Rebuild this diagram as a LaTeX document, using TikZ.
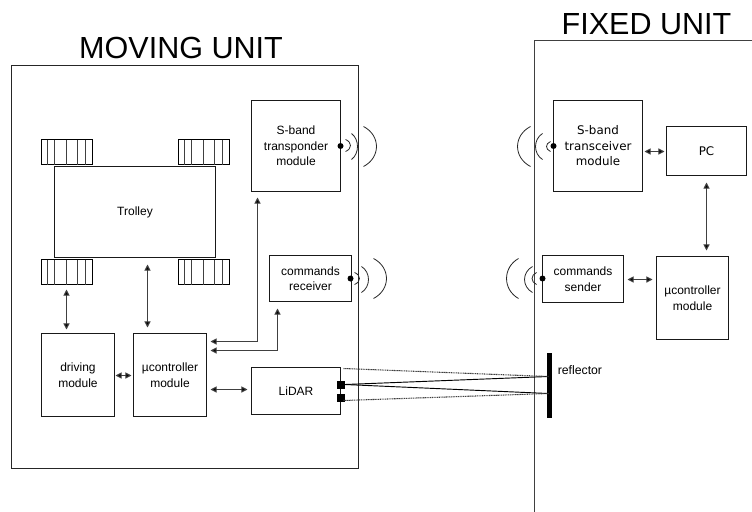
\documentclass[tikz,border=0pt]{standalone}
\usepackage{fontspec}
\setmainfont{Liberation Sans}
\newfontfamily\dejavu{DejaVu Sans}
\usetikzlibrary{arrows.meta}
\tikzset{
 box/.style={draw=black!90,line width=0.65pt,inner sep=0pt,align=center,font=\fontsize{9pt}{11.6pt}\selectfont},
 dvbox/.style={box,font=\dejavu\fontsize{8.9pt}{11.6pt}\selectfont},
 frame/.style={draw=black!75,line width=0.65pt},
 link/.style={draw=black!75,line width=0.8pt,{Triangle[length=4.6pt,width=4.6pt,fill=black]}-{Triangle[length=4.6pt,width=4.6pt,fill=black]}},
 wave/.style={draw=black!85,line width=0.6pt},
 head/.style={font=\fontsize{22.9pt}{26pt}\selectfont,inner sep=0pt},
 wheel/.style={draw=black,line width=0.65pt},
 spoke/.style={draw=black!75,line width=0.65pt},
 beam/.style={draw=black,line width=0.7pt},
 beamd/.style={draw=black!75,line width=0.8pt,dash pattern=on 0.8pt off 0.5pt},
 dotn/.style={circle,fill=black,inner sep=0pt,minimum size=4.5pt},
 sensor/.style={fill=black,draw=none,inner sep=0pt}
}
\newcommand{\wheelat}[2]{%
 \draw[wheel] (#1,#2) rectangle ++(51,25);
 \foreach \d in {6,13,25,36,44}{\draw[spoke] ({#1+\d},#2) -- ++(0,25);}
}
\newcommand{\arcsR}[4]{\draw[wave] (#1,{#2-#3}) .. controls ({#1+1.33*#4},{#2-#3*0.55}) and ({#1+1.33*#4},{#2+#3*0.55}) .. (#1,{#2+#3});}
\newcommand{\bxx}[7][box]{\node[#1,minimum width={(#5-#3)*0.75pt},minimum height={(#6-#4)*0.75pt}] (#2) at ({(#3+#5)/2},{(#4+#6)/2}) {#7};}
\begin{document}
\begin{tikzpicture}[x=0.75pt,y=-0.75pt]
\useasboundingbox (0,0) rectangle (752,511);
\begin{scope}[shift={(0.5,0.5)}]
% frames
\node[draw=black!85,line width=0.65pt,minimum width=347*0.75pt,minimum height=403*0.75pt,inner sep=0pt] (moving) at (184.5,266.5) {};
\coordinate (fa) at (534,511);
\coordinate (fb) at (534,40);
\coordinate (fc) at (752,40);
\draw[frame] (fa) -- (fb) -- (fc);
\node[head] (mt) at (180.5,47) {MOVING UNIT};
\node[head] (ft) at (646,23.5) {FIXED UNIT};
% wheels
\wheelat{41}{139}
\wheelat{178}{139}
\wheelat{41}{259}
\wheelat{178}{259}
% boxes
\bxx{trolley}{54}{166}{215}{257}{Trolley}
\bxx{sband}{251}{100}{340}{191}{S-band\\transponder\\module}
\bxx{recv}{269}{255}{351}{301}{commands\\receiver}
\bxx{drive}{41}{333}{114}{416}{driving\\module}
\bxx{muc}{133}{333}{206}{416}{µcontroller\\module}
\bxx{lidar}{251}{367}{340}{414}{LiDAR}
\bxx[dvbox]{trans}{553}{100}{642}{191}{S-band\\transceiver\\module}
\bxx[dvbox]{pc}{666}{126}{746}{175}{PC}
\bxx{send}{542}{255}{623}{302}{commands\\sender}
\bxx{fuc}{656}{256}{728}{339}{µcontroller\\module}
% connectors
\coordinate (wa) at (66,289); \coordinate (wb) at (66,329);
\draw[link] (wa) -- (wb);
\coordinate (ta) at (147,264); \coordinate (tb) at (147,327);
\draw[link] (ta) -- (tb);
\coordinate (dr) at (115,375); \coordinate (mu) at (131,375);
\draw[link] (dr) -- (mu);
\coordinate (m1) at (210,341); \coordinate (s1) at (257,197);
\draw[link] (m1) -| (s1);
\coordinate (m2) at (210,350); \coordinate (r2) at (277,308);
\draw[link] (m2) -| (r2);
\coordinate (m3) at (210,389); \coordinate (l3) at (247,389);
\draw[link] (m3) -- (l3);
\coordinate (t1) at (644,151); \coordinate (p1) at (664,151);
\draw[link] (t1) -- (p1);
\coordinate (p2) at (706,182); \coordinate (f2) at (706,250);
\draw[link] (p2) -- (f2);
\coordinate (c1) at (627,279); \coordinate (f1) at (652,279);
\draw[link] (c1) -- (f1);
% antennas
\node[dotn] (d1) at (340,145.5) {};
\node[dotn] (d2) at (350,278) {};
\node[dotn] (d3) at (553,145.5) {};
\node[dotn] (d4) at (542,278) {};
\arcsR{345}{145}{6}{5}
\arcsR{351}{146}{13}{6}
\arcsR{363}{146}{20}{13}
\arcsR{354}{278}{6}{5}
\arcsR{361}{279}{13}{7}
\arcsR{373}{278}{20}{13}
\arcsR{550}{146}{5}{-4}
\arcsR{542}{146}{13}{-7}
\arcsR{530}{146}{20}{-13}
\arcsR{536}{278}{6}{-4.5}
\arcsR{532}{279}{13}{-8}
\arcsR{518}{278}{20}{-12}
% reflector and sensors
\node[sensor,minimum width=6pt,minimum height=6pt] (s1n) at (340,384) {};
\node[sensor,minimum width=6pt,minimum height=6pt] (s2n) at (340,397) {};
\node[fill=black,inner sep=0pt,minimum width=3.75pt,minimum height=48.75pt] (refl) at (549,384.5) {};
\node[font=\fontsize{9.2pt}{10pt}\selectfont,anchor=west,inner sep=0pt] (rt) at (557,370) {reflector};
\coordinate (r1) at (548,376); \coordinate (r2b) at (548,393);
\coordinate (ld1) at (343,368); \coordinate (ld2) at (343,400);
\draw[beam] (s1n.east) -- (r1);
\draw[beam] (s1n.east) -- (r2b);
\draw[beamd] (ld1) -- (r1);
\draw[beamd] (ld2) -- (r2b);
\end{scope}
\end{tikzpicture}
\end{document}
